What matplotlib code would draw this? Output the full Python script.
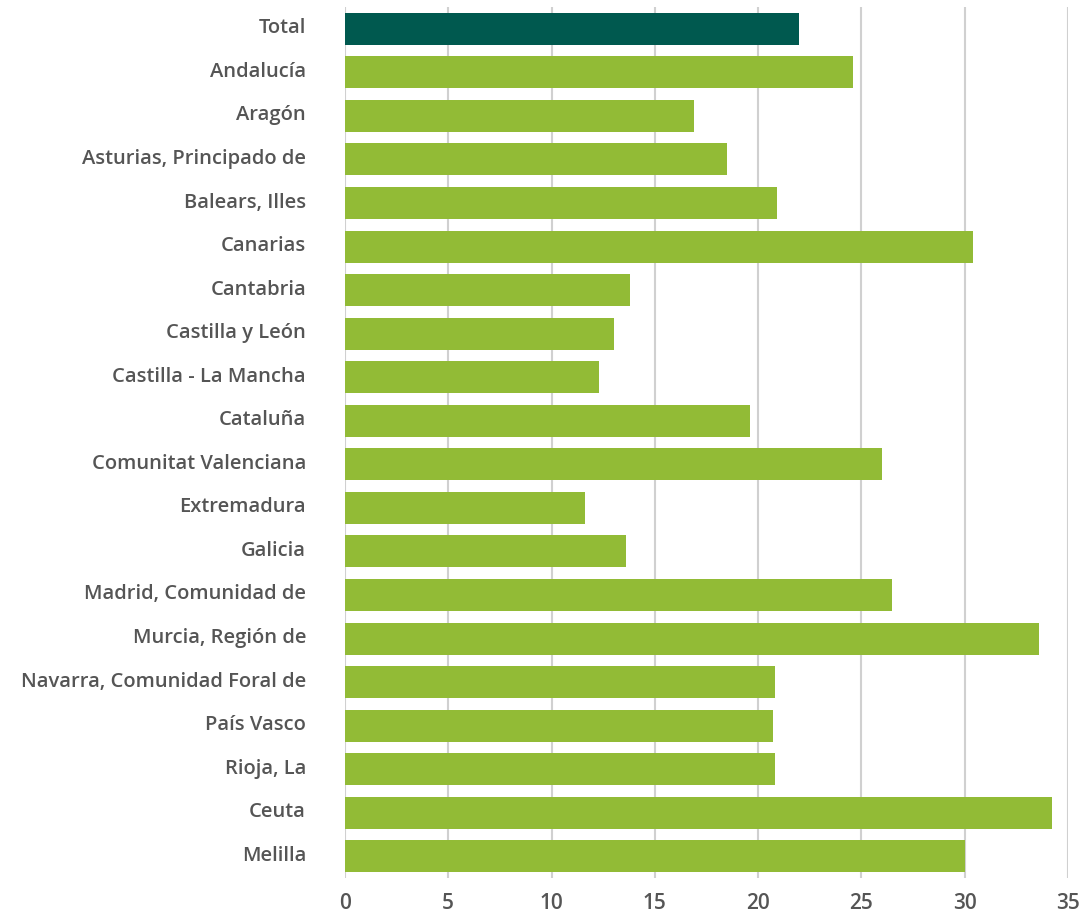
import matplotlib.pyplot as plt
from matplotlib.transforms import ScaledTranslation

regiones = [
    "Total", "Andalucía", "Aragón", "Asturias, Principado de", "Balears, Illes",
    "Canarias", "Cantabria", "Castilla y León", "Castilla - La Mancha", "Cataluña",
    "Comunitat Valenciana", "Extremadura", "Galicia", "Madrid, Comunidad de",
    "Murcia, Región de", "Navarra, Comunidad Foral de", "País Vasco", "Rioja, La",
    "Ceuta", "Melilla",
]
valores = [
    22.0, 24.6, 16.9, 18.5, 20.9, 30.4, 13.8, 13.0, 12.3, 19.6,
    26.0, 11.6, 13.6, 26.5, 33.6, 20.8, 20.7, 20.8, 34.2, 30.0,
]
xticks = [0, 5, 10, 15, 20, 25, 30, 35]

plt.rcParams['font.family'] = ['Open Sans', 'DejaVu Sans']

fig = plt.figure(figsize=(10.81, 9.13), dpi=100)
ax = fig.add_axes([0.3191, 0.0383, 0.9880 - 0.3191, 0.9923 - 0.0383])

colores = ['#00594f' if r == "Total" else '#92bb36' for r in regiones]
pos = list(range(len(regiones)))
ax.barh(pos, valores, height=0.735, color=colores, zorder=2)

ax.set_ylim(len(regiones) - 0.5, -0.5)
ax.set_xlim(0, 35)
ax.set_yticks(pos)
ax.set_yticklabels(regiones, fontweight=600)
ax.set_xticks(xticks)
ax.set_xticklabels([str(t) for t in xticks], fontweight=600)

ax.grid(axis='x', color='#d0d0d0', linewidth=1.5, zorder=0)
ax.set_axisbelow(True)
for s in ax.spines.values():
    s.set_visible(False)
ax.tick_params(axis='y', length=0, pad=28, labelsize=14.5, labelcolor='#555555')
ax.tick_params(axis='x', length=0, pad=11, labelsize=15, labelcolor='#555555')

# subir un poco las etiquetas de las regiones
subir = ScaledTranslation(0, 3 / 100, fig.dpi_scale_trans)
for lbl in ax.get_yticklabels():
    lbl.set_transform(lbl.get_transform() + subir)

fig.savefig('out.png', dpi=100)
